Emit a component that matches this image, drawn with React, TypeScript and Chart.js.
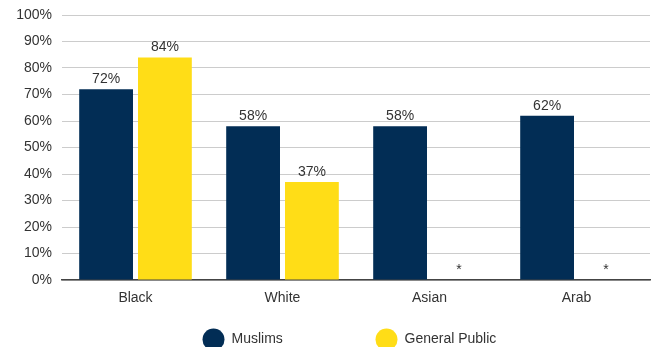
import React, { useEffect, useRef } from "react";
import { Chart, registerables } from "chart.js";

Chart.register(...registerables);

const categories = ["Black", "White", "Asian", "Arab"];
const muslims = [72, 58, 58, 62];
const generalPublic = [84, 37, 0, 0];
const generalPublicLabels = ["84%", "37%", "*", "*"];
const muslimsLabels = ["72%", "58%", "58%", "62%"];
const yTicks = [0, 10, 20, 30, 40, 50, 60, 70, 80, 90, 100];

const NAVY = "#022D55";
const YELLOW = "#FFDD17";
const FONT = "'Liberation Sans', Arial, sans-serif";
const TEXT = "#333333";

const labelPlugin = {
  id: "barLabels",
  afterDatasetsDraw(chart: any) {
    const ctx = chart.ctx;
    ctx.save();
    ctx.font = `14px ${FONT}`;
    ctx.fillStyle = TEXT;
    ctx.textAlign = "center";
    ctx.textBaseline = "bottom";
    chart.data.datasets.forEach((ds: any, di: number) => {
      const meta = chart.getDatasetMeta(di);
      meta.data.forEach((bar: any, i: number) => {
        const txt = ds.valueLabels[i];
        ctx.fillText(txt, bar.x, bar.y - 3);
      });
    });
    ctx.restore();
  },
};

const legendPlugin = {
  id: "customLegend",
  afterDraw(chart: any) {
    const ctx = chart.ctx;
    ctx.save();
    ctx.font = `14px ${FONT}`;
    ctx.textBaseline = "middle";
    ctx.textAlign = "left";
    const positions = [213.5, 386.5];
    const cy = 339.5;
    chart.data.datasets.forEach((ds: any, di: number) => {
      const cx = positions[di];
      ctx.fillStyle = ds.backgroundColor;
      ctx.beginPath();
      ctx.arc(cx, cy, 11, 0, Math.PI * 2);
      ctx.fill();
      ctx.fillStyle = TEXT;
      ctx.fillText(ds.label, cx + 18, cy);
    });
    ctx.restore();
  },
};

export default function App() {
  const ref = useRef<HTMLCanvasElement>(null);
  useEffect(() => {
    document.body.style.margin = "0";
    const chart = new Chart(ref.current!, {
      type: "bar",
      data: {
        labels: categories,
        datasets: [
          {
            label: "Muslims",
            data: muslims,
            backgroundColor: NAVY,
            valueLabels: muslimsLabels,
            categoryPercentage: 0.8,
            barPercentage: 0.915,
          } as any,
          {
            label: "General Public",
            data: generalPublic,
            backgroundColor: YELLOW,
            valueLabels: generalPublicLabels,
            categoryPercentage: 0.8,
            barPercentage: 0.915,
          } as any,
        ],
      },
      options: {
        animation: false,
        responsive: false,
        maintainAspectRatio: false,
        layout: { padding: { top: 15, right: 2, left: 0, bottom: 0 } },
        plugins: {
          legend: { display: false },
          tooltip: { enabled: false },
        },
        scales: {
          x: {
            grid: { display: false, drawTicks: false },
            border: { display: true, color: "#444444", width: 1.5 },
            ticks: {
              font: { family: FONT, size: 14 },
              color: TEXT,
              padding: 10,
            },
            afterFit: (s: any) => {
              s.height = 67;
              s.paddingLeft = 0;
              s.paddingRight = 0;
            },
          },
          y: {
            min: 0,
            max: 100,
            afterBuildTicks: (s: any) => {
              s.ticks = yTicks.map((v) => ({ value: v }));
            },
            grid: { color: "#cccccc", lineWidth: 1, drawTicks: false },
            border: { display: false },
            ticks: {
              font: { family: FONT, size: 14 },
              color: TEXT,
              padding: 10,
              callback: (v: any) => `${v}%`,
            },
            afterFit: (s: any) => {
              s.width = 62;
              s.paddingTop = 0;
              s.paddingBottom = 0;
            },
          },
        },
      },
      plugins: [labelPlugin, legendPlugin],
    });
    return () => chart.destroy();
  }, []);
  return (
    <div style={{ position: "fixed", left: 0, top: 0, width: 652, height: 347 }}>
      <canvas ref={ref} width={652} height={347} />
    </div>
  );
}
